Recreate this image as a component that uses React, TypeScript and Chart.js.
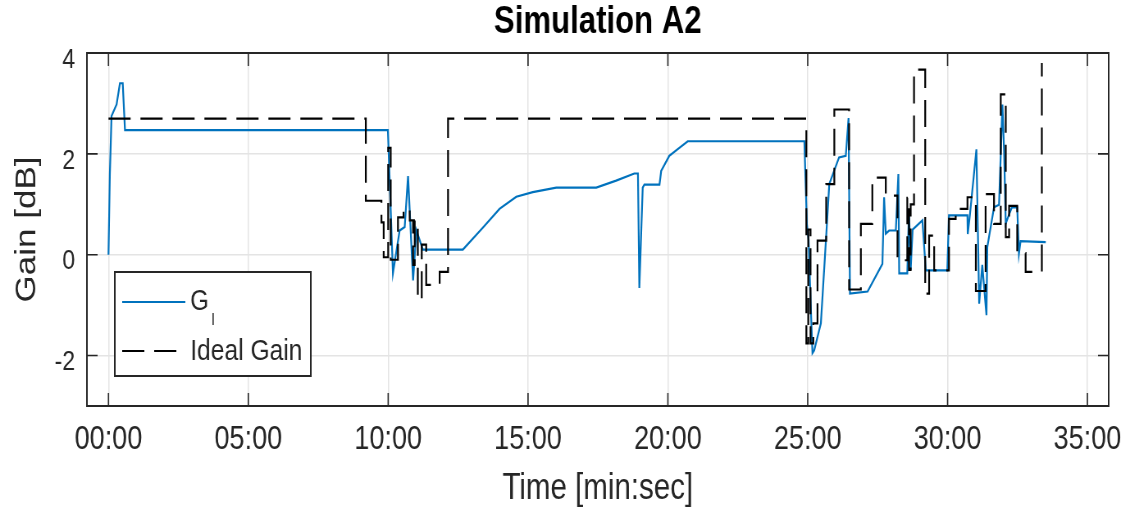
import React, { useEffect, useRef } from "react";
import { Chart, registerables } from "chart.js";

Chart.register(...registerables);

const chartTitle = "Simulation A2";
const xAxisTitle = "Time [min:sec]";
const yAxisTitle = "Gain [dB]";
const gainLabel = "G";
const gainSubscript = "l";
const idealLabel = "Ideal Gain";

const xTickValues = [0, 5, 10, 15, 20, 25, 30, 35];
const xTickLabels = ["00:00", "05:00", "10:00", "15:00", "20:00", "25:00", "30:00", "35:00"];
const yTickValues = [-2, 0, 2, 4];
const yTickLabels = ["-2", "0", "2", "4"];

// G_l (minutes, dB)
const gainTimes = [
  0, 0.05, 0.11, 0.29, 0.41, 0.51, 0.59, 9.99, 10.17, 10.41,
  10.59, 10.71, 10.89, 11.01, 11.24, 12.67, 13.39, 13.98, 14.58, 15.17,
  16.01, 17.44, 18.15, 18.8, 18.93, 18.98, 19.1, 19.16, 19.7, 19.76,
  20.05, 20.41, 20.71, 24.88, 24.97, 25.03, 25.1, 25.17, 25.23, 25.47,
  25.65, 25.77, 26.12, 26.36, 26.46, 26.51, 27.14, 27.67, 27.73, 27.79,
  27.91, 28.15, 28.24, 28.27, 28.56, 28.62, 28.68, 28.75, 29.1, 29.22,
  29.99, 30.05, 30.71, 30.72, 30.8, 31.03, 31.13, 31.24, 31.39, 31.42,
  31.66, 31.84, 31.96, 32.02, 32.08, 32.2, 32.3, 32.49, 32.55, 32.61,
  33.51,
];
const gainValues = [
  0, 1.6, 2.75, 2.98, 3.4, 3.4, 2.47, 2.47, -0.37, 0.48,
  0.55, 1.56, -0.51, 0.48, 0.1, 0.1, 0.54, 0.91, 1.15, 1.24,
  1.33, 1.33, 1.47, 1.61, 1.61, -0.66, 1.33, 1.39, 1.39, 1.66,
  1.96, 2.12, 2.25, 2.25, 0.6, 0.3, -0.9, -1.95, -1.9, -1.36,
  0.28, 1.4, 1.93, 1.96, 2.71, -0.77, -0.73, -0.18, 1.14, 0.42,
  0.48, 0.48, 1.6, -0.37, -0.37, 0.9, -0.3, 0.5, 0.68, -0.31,
  -0.31, 0.78, 0.78, 0.41, 0.8, 2.09, -0.97, -0.2, -1.2, 0.15,
  0.94, 0.99, 2.98, 2.06, 0.62, 0.8, 0.94, 0.94, 0.02, 0.27,
  0.25,
];

// Ideal Gain (step: each value holds until the next time)
const idealTimes = [
  0, 9.2, 9.76, 9.84, 10.0, 10.09, 10.35, 10.55, 10.77, 10.89,
  10.95, 11.06, 11.2, 11.36, 11.84, 12.14, 24.95, 25.02, 25.1, 25.2,
  25.35, 25.66, 25.95, 26.48, 26.9, 27.31, 27.79, 28.21, 28.56, 28.62,
  28.68, 28.8, 29.2, 29.34, 29.52, 30.05, 30.29, 30.71, 31.01, 31.36,
  31.66, 31.9, 32.08, 32.2, 32.49, 32.79, 33.37,
];
const idealValues = [
  2.7, 1.07, 0.64, -0.05, 2.12, -0.1, 0.74, 0.91, 0.68, -0.2,
  0.68, -0.9, 0.2, -0.6, -0.34, 2.7, -1.76, 0.5, -1.76, -1.36,
  0.28, 1.4, 2.88, -0.69, 0.61, 1.53, 1.17, -0.11, 1.13, -0.3,
  1.0, 3.67, -0.77, 0.38, -0.31, 0.71, 0.91, 1.14, -0.72, 1.2,
  0.61, 3.18, 0.35, 0.97, 0.03, -0.34, 3.8,
];

// The reference figure is horizontally condensed: the chart is drawn on a wider
// canvas and shown squeezed to the 1130px window width.
const CANVAS_W = 1378;
const CANVAS_H = 507;
const SHOWN_W = 1130;

const FONT = '"Liberation Sans", Arial, Helvetica, sans-serif';
const DARK = "#262626";
const BLUE = "#0072BD";

const framePlugin = {
  id: "matlabFrame",
  afterDatasetsDraw(chart: any) {
    const { ctx, chartArea, scales } = chart;
    const { left, right, top, bottom } = chartArea;
    ctx.save();
    ctx.strokeStyle = DARK;
    ctx.lineWidth = 1.6;
    const tl = 13;
    ctx.beginPath();
    for (const v of xTickValues) {
      const px = scales.x.getPixelForValue(v);
      ctx.moveTo(px, bottom);
      ctx.lineTo(px, bottom - tl);
      ctx.moveTo(px, top);
      ctx.lineTo(px, top + tl);
    }
    for (const v of yTickValues) {
      const py = scales.y.getPixelForValue(v);
      ctx.moveTo(left, py);
      ctx.lineTo(left + tl, py);
      ctx.moveTo(right, py);
      ctx.lineTo(right - tl, py);
    }
    ctx.stroke();
    ctx.lineWidth = 2;
    ctx.strokeRect(left, top, right - left, bottom - top);
    ctx.restore();
  },
  afterDraw(chart: any) {
    const { ctx } = chart;
    ctx.save();
    const bx = 140, by = 272, bw = 239, bh = 104;
    ctx.fillStyle = "#ffffff";
    ctx.fillRect(bx, by, bw, bh);
    ctx.strokeStyle = DARK;
    ctx.lineWidth = 2;
    ctx.strokeRect(bx, by, bw, bh);
    ctx.strokeStyle = BLUE;
    ctx.lineWidth = 2;
    ctx.setLineDash([]);
    ctx.beginPath();
    ctx.moveTo(149, 302);
    ctx.lineTo(226, 302);
    ctx.stroke();
    ctx.strokeStyle = "#000";
    ctx.setLineDash([27, 12]);
    ctx.beginPath();
    ctx.moveTo(149, 351);
    ctx.lineTo(217, 351);
    ctx.stroke();
    ctx.setLineDash([]);
    ctx.fillStyle = DARK;
    ctx.textAlign = "left";
    ctx.textBaseline = "alphabetic";
    ctx.font = `29px ${FONT}`;
    ctx.fillText(gainLabel, 232, 310);
    ctx.font = `17px ${FONT}`;
    ctx.fillText(gainSubscript, 258, 325);
    ctx.font = `30px ${FONT}`;
    ctx.fillText(idealLabel, 232, 360);
    ctx.restore();
  },
};

export default function App() {
  const ref = useRef<HTMLCanvasElement>(null);
  useEffect(() => {
    const canvas = ref.current;
    if (!canvas) return;
    const chart = new Chart(canvas, {
      type: "line",
      data: {
        datasets: [
          {
            label: idealLabel,
            data: idealTimes.map((t, i) => ({ x: t, y: idealValues[i] })),
            borderColor: "#000000",
            borderWidth: 2.2,
            borderDash: [27, 12],
            stepped: true,
            pointRadius: 0,
            fill: false,
          },
          {
            label: gainLabel + "_" + gainSubscript,
            data: gainTimes.map((t, i) => ({ x: t, y: gainValues[i] })),
            borderColor: BLUE,
            borderWidth: 2.2,
            pointRadius: 0,
            tension: 0,
            fill: false,
          },
        ],
      },
      options: {
        animation: false,
        responsive: false,
        devicePixelRatio: 1,
        layout: { padding: { left: 0, right: 26, top: 0, bottom: 0 } },
        plugins: {
          legend: { display: false },
          tooltip: { enabled: false },
          title: {
            display: true,
            fullSize: false,
            text: chartTitle,
            color: "#000",
            font: { family: FONT, size: 38, weight: "bold" },
            padding: { top: 0, bottom: 7.4 },
          },
        },
        scales: {
          x: {
            type: "linear",
            min: -0.77,
            max: 35.76,
            afterBuildTicks: (s: any) => {
              s.ticks = xTickValues.map((v) => ({ value: v }));
            },
            afterFit: (s: any) => {
              s.height = 101;
              s.paddingLeft = 0;
              s.paddingRight = 0;
            },
            ticks: {
              callback: (v: any) => {
                const i = xTickValues.indexOf(Number(v));
                return i >= 0 ? xTickLabels[i] : "";
              },
              autoSkip: false,
              maxRotation: 0,
              minRotation: 0,
              padding: 14,
              color: DARK,
              font: { family: FONT, size: 33 },
            },
            grid: { color: "#e4e4e4", lineWidth: 1.5, drawTicks: false },
            border: { display: false },
            title: {
              display: true,
              text: xAxisTitle,
              color: DARK,
              font: { family: FONT, size: 36, lineHeight: 1 },
              padding: 0,
            },
          },
          y: {
            type: "linear",
            min: -3,
            max: 4,
            afterBuildTicks: (s: any) => {
              s.ticks = yTickValues.map((v) => ({ value: v }));
            },
            afterFit: (s: any) => {
              s.width = 106;
            },
            ticks: {
              callback: (v: any) => {
                const i = yTickValues.indexOf(Number(v));
                return i >= 0 ? yTickLabels[i] : "";
              },
              padding: 14.5,
              labelOffset: 7,
              color: DARK,
              font: { family: FONT, size: 28 },
            },
            grid: { color: "#e4e4e4", lineWidth: 1.5, drawTicks: false },
            border: { display: false },
            title: {
              display: true,
              text: yAxisTitle,
              color: DARK,
              font: { family: FONT, size: 35, lineHeight: 1 },
              padding: { top: 16, bottom: 0 },
            },
          },
        },
      },
      plugins: [framePlugin],
    } as any);
    return () => chart.destroy();
  }, []);
  return (
    <div style={{ position: "fixed", left: 0, top: 0, width: SHOWN_W, height: CANVAS_H, background: "#fff", overflow: "hidden" }}>
      <canvas
        ref={ref}
        width={CANVAS_W}
        height={CANVAS_H}
        style={{ display: "block", width: SHOWN_W + "px", height: CANVAS_H + "px" }}
      />
    </div>
  );
}
